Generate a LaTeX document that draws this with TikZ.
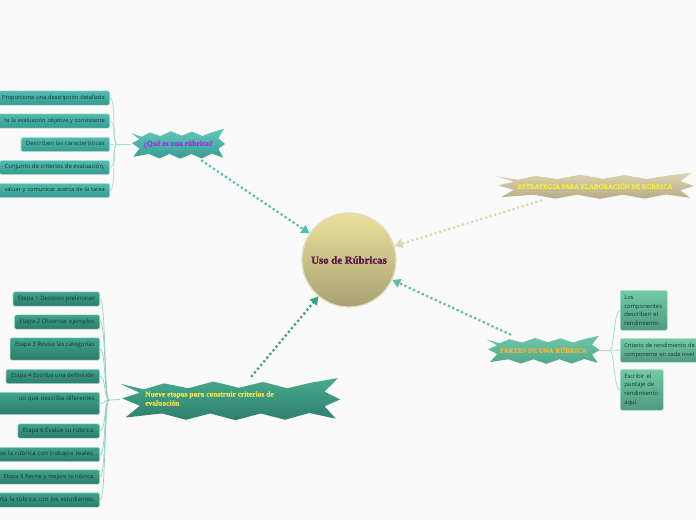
\documentclass[tikz,border=0pt]{standalone}
\usepackage{fontspec}
\setmainfont{Open Sans}
\newfontfamily\ttlfont[BoldFeatures={FakeBold=1.6}]{Liberation Serif}
\usetikzlibrary{arrows.meta,backgrounds}
\definecolor{bgc}{HTML}{FAFAFA}
\definecolor{ctop}{HTML}{EAE29A}
\definecolor{cbot}{HTML}{A8A074}
\definecolor{cbd}{HTML}{E2DCB8}
\definecolor{usotxt}{HTML}{5C1A4E}
\definecolor{qtop}{HTML}{62C8BC}
\definecolor{qbot}{HTML}{3A9C94}
\definecolor{qtxt}{HTML}{A02FE8}
\definecolor{ntop}{HTML}{47AA8E}
\definecolor{nbot}{HTML}{2E7F6E}
\definecolor{ntxt}{HTML}{E8E048}
\definecolor{stop}{HTML}{DDD4AF}
\definecolor{sbot}{HTML}{B6AC86}
\definecolor{stxt}{HTML}{F7EC40}
\definecolor{ptop}{HTML}{70C8A8}
\definecolor{pbot}{HTML}{4FA88A}
\definecolor{ptxt}{HTML}{F5B040}
\definecolor{tltop}{HTML}{52BBB0}
\definecolor{tlbot}{HTML}{379A8E}
\definecolor{tlbd}{HTML}{B4E4DE}
\definecolor{bltop}{HTML}{40A48E}
\definecolor{blbot}{HTML}{2C7C6A}
\definecolor{blbd}{HTML}{A4D8CA}
\definecolor{rtop}{HTML}{74CAA6}
\definecolor{rbot}{HTML}{4E9A80}
\definecolor{rbd}{HTML}{B8E6D4}
\definecolor{boxtxt}{HTML}{163833}
\definecolor{tlline}{HTML}{A4DCD6}
\definecolor{blline}{HTML}{92D2C2}
\definecolor{rline}{HTML}{A8DCC8}
\definecolor{aq}{HTML}{4CC0B5}
\definecolor{an}{HTML}{3A9C84}
\definecolor{as}{HTML}{DDD6B0}
\definecolor{ap}{HTML}{62BE9E}
\newcommand{\jagbg}[5]{%
\begin{scope}[shift={(#1.center)},x=#2pt,y=#3pt]
\shade[top color=#4,bottom color=#5]
 (-1.00,0.70) -- (-0.78,0.45) -- (-0.60,0.72) -- (-0.38,0.50) -- (-0.15,0.80)
 -- (0.08,0.52) -- (0.30,0.78) -- (0.52,0.50) -- (0.74,0.75) -- (0.98,0.95)
 -- (0.86,0.35) -- (1.00,0.00) -- (0.86,-0.30) -- (0.96,-0.85) -- (0.72,-0.60)
 -- (0.50,-0.90) -- (0.28,-0.62) -- (0.05,-0.92) -- (-0.18,-0.62) -- (-0.40,-0.90)
 -- (-0.62,-0.62) -- (-0.95,-0.80) -- (-0.82,-0.28) -- (-0.98,0.05) -- (-0.82,0.30) -- cycle;
\end{scope}}
\begin{document}
\begin{tikzpicture}[x=1pt,y=-1pt,
 tlbox/.style={anchor=east, draw=tlbd, line width=0.6pt, top color=tltop, bottom color=tlbot,
   rounded corners=1.5pt, font=\fontsize{6}{7}\selectfont, text=boxtxt, inner xsep=5pt,
   inner ysep=4.2pt, text height=4.3pt, text depth=1.5pt},
 blbox/.style={tlbox, draw=blbd, top color=bltop, bottom color=blbot},
 rbox/.style={anchor=north west, draw=rbd, line width=0.6pt, top color=rtop, bottom color=rbot,
   rounded corners=2pt, font=\fontsize{5.9}{8.7}\selectfont, text=boxtxt, align=left,
   inner xsep=4pt, inner ysep=3pt},
 wide/.style={text width=#1, align=right},
 fs/.style={font=\fontsize{#1}{7}\selectfont},
 tall/.style={text depth=9.5pt},
 starnode/.style={inner sep=0pt, font=\ttlfont\bfseries},
 dotarrow/.style={line width=2.2pt, dash pattern=on 2.2pt off 2.6pt, -{Triangle[length=8pt,width=9pt]}},
 link/.style={line width=0.7pt}
]
\useasboundingbox (0,0) rectangle (696,520);
\clip (0,0) rectangle (696,520);
\begin{pgfonlayer}{background}
\fill[bgc] (0,0) rectangle (696,520);
\end{pgfonlayer}

% centre
\node[circle, minimum size=94pt, inner sep=0pt, top color=ctop, bottom color=cbot, draw=cbd, line width=1.3pt,
  font=\ttlfont\bfseries\fontsize{10.8}{12}\selectfont, text=usotxt] (c) at (349,260) {Uso de Rúbricas};

% star nodes
\node[starnode, minimum width=94pt, minimum height=32pt, text=qtxt, font=\ttlfont\bfseries\fontsize{7.6}{8}\selectfont] (q) at (178,144) {¿Qué es una rúbrica?};
\node[starnode, minimum width=220pt, minimum height=45pt] (n) at (230,399.5) {};
\node[starnode, anchor=west, align=left, text=ntxt, font=\ttlfont\bfseries\fontsize{7.5}{9}\selectfont] (nt) at (145,398.5) {Nueve etapas para construir criterios de\\evaluación};
\node[starnode, minimum width=198pt, minimum height=28pt, text=stxt, font=\ttlfont\bfseries\fontsize{6.5}{7}\selectfont] (s) at (595,186) {ESTRATEGIA PARA ELABORACIÓN DE RÚBRICA};
\node[starnode, minimum width=113pt, minimum height=30pt, text=ptxt, font=\ttlfont\bfseries\fontsize{6.8}{7}\selectfont] (p) at (543.5,350) {PARTES DE UNA RÚBRICA};

\begin{pgfonlayer}{background}
\jagbg{q}{47}{16}{qtop}{qbot}
\jagbg{n}{110}{22.5}{ntop}{nbot}
\jagbg{s}{99}{14}{stop}{sbot}
\jagbg{p}{56.5}{15}{ptop}{pbot}
\end{pgfonlayer}

% top-left boxes
\node[tlbox, wide=115pt, fs=5.65] (t1) at (110,98) {Proporciona una descripción detallada};
\node[tlbox, wide=115pt, fs=5.6] (t2) at (110,121) {ta la evaluación objetiva y consistente};
\node[tlbox] (t3) at (110,144.5) {Describen las características};
\node[tlbox] (t4) at (110,167.5) {Conjunto de criterios de evaluación,};
\node[tlbox, wide=115pt, fs=5.65] (t5) at (110,190.5) {valuar y comunicar acerca de la tarea};

% bottom-left boxes
\node[blbox] (b1) at (100,299) {Etapa 1 Decisión preliminar};
\node[blbox] (b2) at (100,322) {Etapa 2 Observar ejemplos};
\node[blbox, tall] (b3) at (100,349) {Etapa 3 Revise las categorías};
\node[blbox] (b4) at (100,376.5) {Etapa 4 Escriba una definición};
\node[blbox, tall, wide=110pt] (b5) at (100,403.5) {uo que describa diferentes};
\node[blbox] (b6) at (100,431) {Etapa 6 Evalúe su rúbrica.};
\node[blbox, wide=110pt, font=\fontsize{6}{7}\selectfont\addfontfeature{LetterSpace=1.8}] (b7) at (100,454.5) {be la rúbrica con trabajos reales.};
\node[blbox, wide=110pt, fs=5.55] (b8) at (100,477) {Etapa 8 Revise y mejore la rúbrica.};
\node[blbox, wide=110pt] (b9) at (100,500) {rta la rúbrica con los estudiantes.};

% right boxes
\node[rbox, text width=39pt, minimum height=40pt] (r1) at (620,290) {Los\\componentes\\describen el\\rendimiento.};
\node[rbox, text width=100pt, minimum height=24pt, font=\fontsize{5.6}{8.7}\selectfont] (r2) at (620,338) {Criterio de rendimiento de\\componente en cada nivel};
\node[rbox, text width=35pt, minimum height=41pt] (r3) at (620,369) {Escribir el\\puntaje de\\rendimiento\\aquí.};

% branch links
\coordinate (qj) at (117,144);
\draw[link, tlline] (q.west) -- (qj);
\foreach \b in {t1,t2,t3,t4,t5} \draw[link, tlline] (qj) .. controls +(-5,0) and +(6,0) .. (\b.east);
\coordinate (nj) at (109,400);
\draw[link, blline] (n.west) -- (nj);
\foreach \b in {b1,b2,b3,b4,b5,b6,b7,b8,b9} \draw[link, blline] (nj) .. controls +(-5,0) and +(6,0) .. (\b.east);
\coordinate (pj) at (610,350);
\draw[link, rline] (p.east) -- (pj);
\foreach \b in {r1,r2,r3} \draw[link, rline] (pj) .. controls +(4,0) and +(-6,0) .. (\b.west);

% dotted arrows to centre
\draw[dotarrow, aq] (q.-35) -- (c);
\draw[dotarrow, an] (n.47) -- (c);
\draw[dotarrow, as] (s.195) -- (c);
\draw[dotarrow, ap] (p.155) -- (c);
\end{tikzpicture}
\end{document}
